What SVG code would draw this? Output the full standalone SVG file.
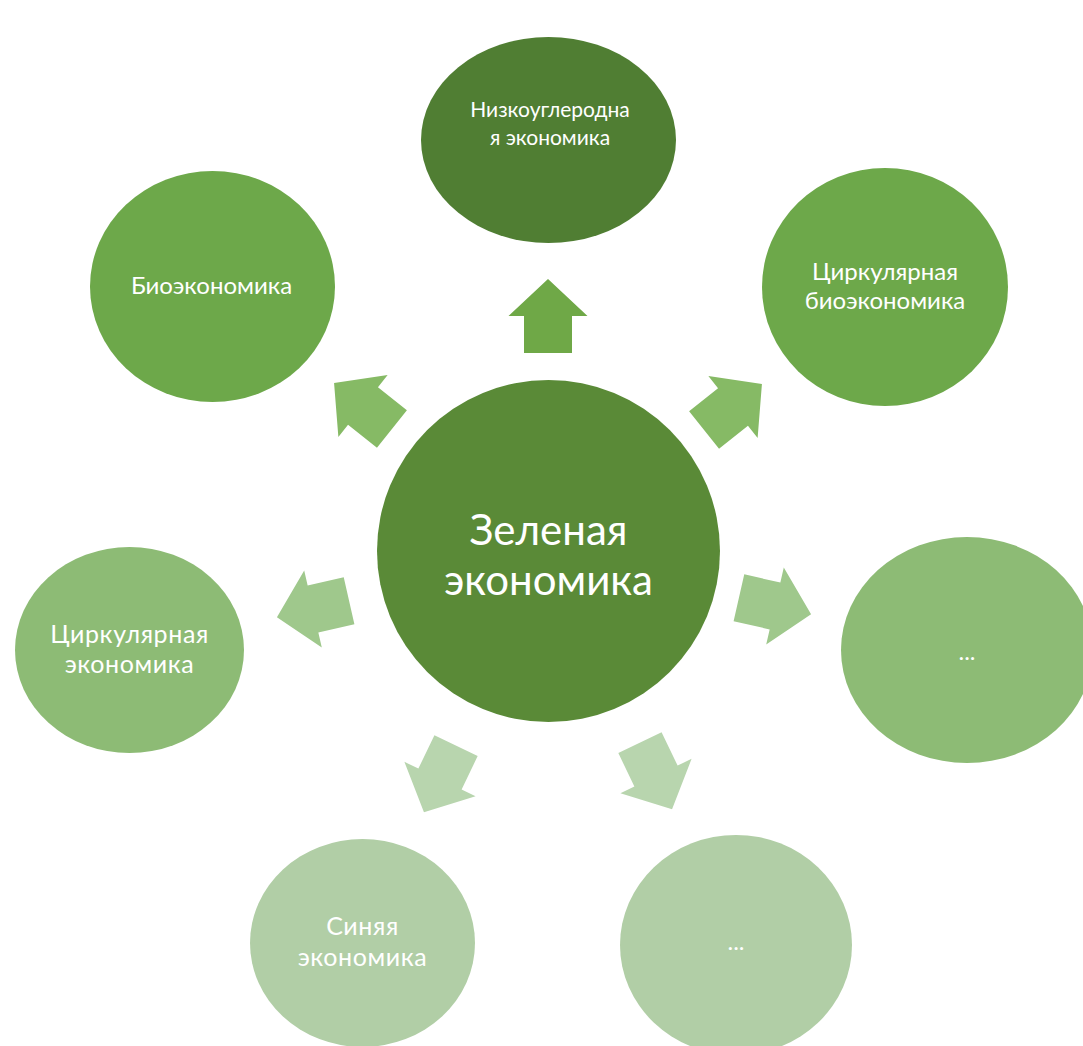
<svg xmlns="http://www.w3.org/2000/svg" width="1083" height="1046" viewBox="0 0 1083 1046">
<style>
.t{font-family:Lato,"Open Sans","Noto Sans",sans-serif;fill:#ffffff;text-anchor:middle;font-size:24px}
.s{font-size:21px}
.m{font-size:25px;letter-spacing:0.6px}
.big{font-size:42px}
</style>
<defs>
<path id="arr" d="M0,-37 L39.5,0 L24,0 L24,37 L-24,37 L-24,0 L-39.5,0 Z"/>
</defs>
<rect width="1083" height="1046" fill="#ffffff"/>
<g id="connectors">
<use href="#arr" transform="translate(548,316)" fill="#6FA847"/>
<use href="#arr" transform="translate(363,406) rotate(-51.43)" fill="#86BA65"/>
<use href="#arr" transform="translate(733,407) rotate(51.43)" fill="#86BA65"/>
<use href="#arr" transform="translate(313,609) rotate(-102.86)" fill="#9FC88C"/>
<use href="#arr" transform="translate(775,606) rotate(102.86)" fill="#9FC88C"/>
<use href="#arr" transform="translate(440,779) rotate(-154.29)" fill="#B8D5AE"/>
<use href="#arr" transform="translate(656,776) rotate(154.29)" fill="#B8D5AE"/>
</g>
<g id="node-center">
<ellipse cx="548.5" cy="551" rx="171.5" ry="171" fill="#5A8A37"/>
<text class="t big" x="548.5" y="545">Зеленая</text>
<text class="t big" x="548.5" y="595">экономика</text>
</g>
<g id="node-top">
<ellipse cx="548.5" cy="140" rx="127.5" ry="103" fill="#507E33"/>
<text class="t s" x="550" y="117">Низкоуглеродна</text>
<text class="t s" x="550" y="145">я экономика</text>
</g>
<g id="node-bio">
<ellipse cx="212.5" cy="286.5" rx="122.5" ry="115.5" fill="#6DA84A"/>
<text class="t" x="211.5" y="294">Биоэкономика</text>
</g>
<g id="node-circbio">
<ellipse cx="885" cy="287" rx="123" ry="119" fill="#6DA84A"/>
<text class="t" x="885" y="280">Циркулярная</text>
<text class="t" x="885" y="309">биоэкономика</text>
</g>
<g id="node-circ">
<ellipse cx="129.5" cy="650" rx="114.5" ry="103" fill="#8DBB75"/>
<text class="t m" x="129.5" y="643">Циркулярная</text>
<text class="t m" x="129.5" y="673">экономика</text>
</g>
<g id="node-right">
<ellipse cx="967" cy="650" rx="126" ry="113" fill="#8DBB75"/>
<text class="t" x="967" y="660">...</text>
</g>
<g id="node-blue">
<ellipse cx="362.5" cy="943" rx="112.5" ry="104" fill="#B1CEA6"/>
<text class="t m" x="362.5" y="935">Синяя</text>
<text class="t m" x="362.5" y="966">экономика</text>
</g>
<g id="node-bottom">
<ellipse cx="736" cy="945" rx="116" ry="110" fill="#B1CEA6"/>
<text class="t" x="736" y="950">...</text>
</g>
</svg>
